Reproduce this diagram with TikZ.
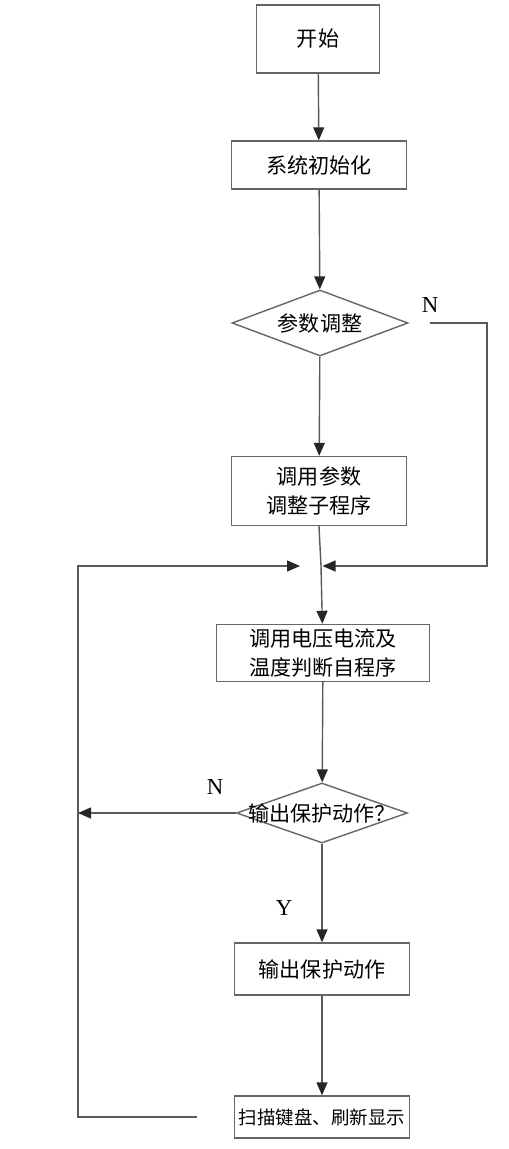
\documentclass[tikz,border=0pt]{standalone}
\usepackage{fontspec}
\setmainfont{Liberation Serif}
\newfontfamily\cjk{Noto Sans CJK SC}
\usetikzlibrary{arrows.meta, shapes.geometric, calc}

\begin{document}
\begin{tikzpicture}[
  x=0.2mm, y=-0.2mm,
  font=\cjk\fontsize{12}{17}\selectfont,
  box/.style={draw=black!60, line width=0.8pt, fill=white, align=center, inner sep=1pt},
  dec/.style={diamond, draw=black!60, line width=0.8pt, fill=white, inner sep=0pt, aspect=2.6},
  arr/.style={-{Triangle[length=2.6mm,width=2.2mm,color=black!85]}, draw=black!65, line width=0.8pt},
  yn/.style={font=\rmfamily\fontsize{13}{15}\selectfont},
]
\useasboundingbox (0,0) rectangle (508,1149);

% --- main column ---
\node[box, minimum width=24.6mm, minimum height=13.6mm] (start) at (318,39)  {开始};
\node[box, minimum width=35mm,   minimum height=9.6mm]  (init)  at (319,165) {系统初始化};
\node[dec, minimum width=35.2mm, minimum height=13.2mm] (adj)   at (320,323) {\makebox[0pt]{参数调整}};
\node[box, minimum width=35mm,   minimum height=13.8mm] (sub)   at (319,491) {调用参数\\调整子程序};
\coordinate (jn) at (321,566);
\node[box, minimum width=42.6mm, minimum height=11.4mm] (judge) at (323,653) {调用电压电流及\\温度判断自程序};
\node[dec, minimum width=34.2mm, minimum height=12mm]   (prot)  at (322,813) {\makebox[0pt]{输出保护动作？}};
\node[box, minimum width=35mm,   minimum height=10.4mm] (out)   at (322,969) {输出保护动作};
\node[box, minimum width=35mm,   minimum height=8.4mm, font=\cjk\fontsize{10.5}{15}\selectfont]
  (scan) at (322,1117) {扫描键盘、刷新显示};

\draw[arr] (start) -- (init);
\draw[arr] (init) -- (adj);
\draw[arr] (adj) -- (sub);
\draw[draw=black!65, line width=0.8pt] (sub.south) -- (jn);
\draw[arr] (jn) -- (judge);
\draw[arr] (judge) -- (prot);
\draw[arr] (prot) -- (out);
\draw[arr] (out) -- (scan);

% --- loops ---
\coordinate (rc) at (487,323);
\coordinate (lc) at (78,1112);
\draw[arr, shorten <=4.2mm, shorten >=0.3mm] (adj.east) -- (adj.east -| rc) |- (jn);
\draw[arr, shorten <=7.4mm, shorten >=4.2mm] (scan.west) -- (scan.west -| lc) |- (jn);
\draw[arr] (prot.west) -- (prot.west -| lc);

% --- labels ---
\node[yn] (n1) at (430,305) {N};
\node[yn] (n2) at (215,787) {N};
\node[yn] (y1) at (284,908) {Y};
\end{tikzpicture}
\end{document}
